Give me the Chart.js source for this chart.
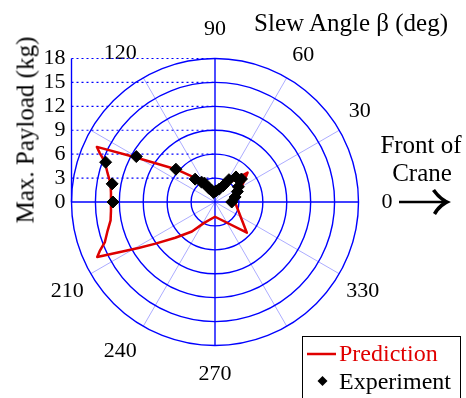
<!DOCTYPE html>
<html>
<head>
<meta charset="utf-8">
<script src="https://cdn.jsdelivr.net/npm/chart.js@4.4.0/dist/chart.umd.min.js"></script>
<style>
  body { margin: 0; background: #fff; }
  #wrap { position: relative; width: 466px; height: 398px; overflow: hidden; font-family: 'Liberation Serif', 'Times New Roman', serif; }
  #wrap canvas { position: absolute; left: 0; top: 0; }
  .txt { position: absolute; white-space: nowrap; font-size: 25px; line-height: 1; color: #000; transform: translate(-50%, -50%); }
  #legend { position: absolute; left: 302px; top: 336px; width: 157px; height: 80px; border: 1px solid #000; background: #fff; }
  #legend .row { position: absolute; left: 36px; font-size: 24px; line-height: 1; white-space: nowrap; transform: translateY(-50%); }
</style>
</head>
<body>
<div id="wrap">
  <canvas id="polarChart" width="466" height="398"></canvas>
  <div class="txt" style="left:351px;top:22px;">Slew Angle β (deg)</div>
  <div class="txt" style="left:25px;top:130px;transform:translate(-50%,-50%) rotate(-90deg);">Max. Payload (kg)</div>
  <div class="txt" style="left:421px;top:144px;">Front of</div>
  <div class="txt" style="left:422px;top:172px;">Crane</div>
  <svg style="position:absolute;left:0;top:0" width="466" height="398">
    <line x1="399" y1="202" x2="446" y2="202" stroke="#000" stroke-width="2.6"/>
    <path d="M435 189 Q441 198 451 202 Q441 206 436 215 L433 213 Q437 206 443 202 Q437 198 432 191 Z" fill="#000"/>
  </svg>
  <div id="legend">
    <svg style="position:absolute;left:0;top:0" width="157" height="80">
      <line x1="4" y1="17" x2="33" y2="17" stroke="#e00000" stroke-width="2.5"/>
      <path d="M19.5 39 L24.5 44 L19.5 49 L14.5 44 Z" fill="#000"/>
    </svg>
    <div class="row" style="top:16px;color:#e00000;">Prediction</div>
    <div class="row" style="top:44px;">Experiment</div>
  </div>
</div>
<script>
// slew angle (deg) and max payload (kg)
const predAngles = [0, 42, 90, 119, 129, 140, 151, 155, 157, 160, 165, 170, 175, 180, 185, 190, 195, 200, 203, 205, 211, 215, 222, 232, 242, 270, 316];
const predValues = [2.5, 5.5, 1.5, 2.7, 3.85, 6.4, 11.7, 16.35, 15.7, 14.7, 13.95, 13.3, 13.1, 13.05, 13.1, 13.3, 13.95, 14.7, 15.7, 16.3, 11.2, 9.1, 6.7, 4.7, 3.0, 1.85, 5.55];

const expAngles = [0, 14, 25, 33, 41, 50, 58, 63, 72, 85, 98, 107, 114, 119, 124, 131, 140, 150, 160, 170, 180];
const expValues = [2.1, 2.6, 3.1, 3.5, 4.4, 4.1, 3.3, 2.3, 1.7, 1.4, 1.2, 1.6, 1.9, 2.7, 3.0, 3.8, 6.4, 11.4, 14.6, 13.1, 12.8];

const angleTicks = [0, 30, 60, 90, 120, 210, 240, 270, 330];
const payloadTicks = [0, 3, 6, 9, 12, 15, 18];

// one radar category per degree, counter-clockwise from the right
const N = 360;
const degrees = Array.from({ length: N }, (_, i) => (N - i) % N);

function toSeries(angles, values) {
  const out = new Array(N).fill(null);
  angles.forEach((a, k) => { out[(N - a) % N] = values[k]; });
  return out;
}

const BLUE = '#0000ff';
const LIGHT = 'rgba(0,0,255,0.33)';
const labelPad = { 0: 23, 30: 11, 60: 11, 90: 16.1, 120: 13, 210: 8, 240: 13, 270: 15.6, 330: 8 };

// left payload axis with dotted guides, tied to the radial scale
const payloadAxis = {
  id: 'payloadAxis',
  beforeDatasetsDraw(chart) {
    const s = chart.scales.r;
    const ctx = chart.ctx;
    const x0 = s.xCenter - s.drawingArea;
    ctx.save();
    ctx.strokeStyle = BLUE;
    ctx.lineWidth = 1.2;
    ctx.setLineDash([2, 3]);
    payloadTicks.forEach(v => {
      if (v === 0) return;
      const y = s.yCenter - s.getDistanceFromCenterForValue(v);
      ctx.beginPath();
      ctx.moveTo(x0, y);
      ctx.lineTo(s.xCenter, y);
      ctx.stroke();
    });
    ctx.setLineDash([]);
    ctx.lineWidth = 1.4;
    ctx.beginPath();
    ctx.moveTo(x0, s.yCenter);
    ctx.lineTo(x0, s.yCenter - s.drawingArea);
    ctx.stroke();
    ctx.fillStyle = '#000';
    ctx.font = '22px "Liberation Serif"';
    ctx.textAlign = 'right';
    ctx.textBaseline = 'middle';
    payloadTicks.forEach(v => {
      const y = s.yCenter - s.getDistanceFromCenterForValue(v);
      ctx.fillText(String(v), x0 - 6, y);
    });
    ctx.restore();
  }
};

new Chart(document.getElementById('polarChart'), {
  type: 'radar',
  data: {
    labels: degrees,
    datasets: [
      {
        label: 'Prediction',
        data: toSeries(predAngles, predValues),
        borderColor: '#dd0000',
        borderWidth: 2.5,
        borderJoinStyle: 'round',
        fill: false,
        pointRadius: 0,
        spanGaps: true,
        tension: 0,
        order: 1
      },
      {
        label: 'Experiment',
        data: toSeries(expAngles, expValues),
        showLine: false,
        fill: false,
        backgroundColor: 'transparent',
        borderColor: 'transparent',
        pointStyle: 'rectRot',
        pointRadius: 6,
        pointBackgroundColor: '#000',
        pointBorderColor: '#000',
        pointBorderWidth: 1,
        order: 0
      }
    ]
  },
  options: {
    responsive: false,
    animation: false,
    devicePixelRatio: 1,
    layout: { padding: { left: 10, right: 35, top: 16, bottom: 10 } },
    plugins: { legend: { display: false }, tooltip: { enabled: false } },
    scales: {
      r: {
        min: 0,
        max: 18,
        startAngle: 90,
        ticks: { display: false, stepSize: 3 },
        grid: { circular: true, color: BLUE, lineWidth: 1.4 },
        angleLines: {
          display: true,
          color: c => (degrees[c.index] % 90 === 0 ? BLUE : LIGHT),
          lineWidth: c => (degrees[c.index] % 90 === 0 ? 1.4 : degrees[c.index] % 30 === 0 ? 1 : 0)
        },
        pointLabels: {
          display: true,
          color: '#000',
          font: { family: 'Liberation Serif', size: 22 },
          padding: c => labelPad[degrees[c.index]] ?? 0,
          callback: v => (angleTicks.includes(v) ? String(v) : '')
        }
      }
    }
  },
  plugins: [payloadAxis]
});
</script>
</body>
</html>
